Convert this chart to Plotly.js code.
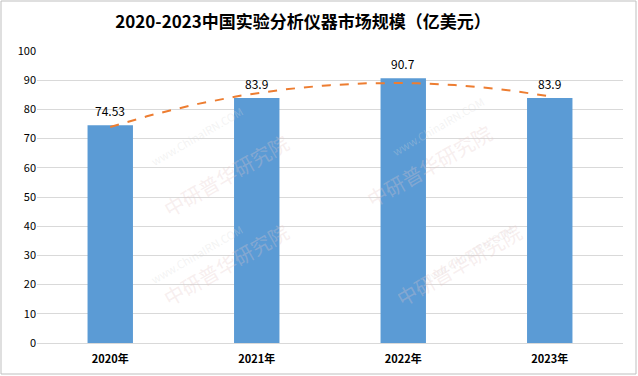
<!DOCTYPE html>
<html><head><meta charset="utf-8">
<script src="https://cdn.plot.ly/plotly-3.0.1.min.js"></script>
<style>body{margin:0;padding:0;background:#fff}#c{width:638px;height:376px}</style>
</head><body><div id="c"></div>
<script>
const categories = ['2020年','2021年','2022年','2023年'];
const values = [74.53, 83.9, 90.7, 83.9];
const valueLabels = ['74.53','83.9','90.7','83.9'];
const yTicks = [0,10,20,30,40,50,60,70,80,90,100];

// polynomial (order 2) trendline, least-squares fit on category index, as in the source
function quadFit(ys){
  const xs = ys.map((_,i)=>i+1);
  let S=[0,0,0,0,0], T=[0,0,0];
  xs.forEach((x,i)=>{for(let k=0;k<5;k++)S[k]+=Math.pow(x,k);for(let k=0;k<3;k++)T[k]+=Math.pow(x,k)*ys[i];});
  const A=[[S[0],S[1],S[2],T[0]],[S[1],S[2],S[3],T[1]],[S[2],S[3],S[4],T[2]]];
  for(let i=0;i<3;i++){for(let j=i+1;j<3;j++){const f=A[j][i]/A[i][i];for(let k=i;k<4;k++)A[j][k]-=f*A[i][k];}}
  const c=[0,0,0];
  for(let i=2;i>=0;i--){let s=A[i][3];for(let k=i+1;k<3;k++)s-=A[i][k]*c[k];c[i]=s/A[i][i];}
  return c;
}
const coef = quadFit(values);
const tx=[], ty=[];
for(let i=0;i<=60;i++){const x=1+3*i/60; tx.push(x-1); ty.push(coef[0]+coef[1]*x+coef[2]*x*x);}

const font = '"Noto Sans CJK SC", "Noto Sans", sans-serif';
const bars = {
  type:'bar', x:[0,1,2,3], y:values,
  marker:{color:'#5B9BD5'}, width:0.31, hoverinfo:'none'
};
const trend = {
  type:'scatter', mode:'lines', x:tx, y:ty,
  line:{color:'#ED7D31', width:2, dash:'dash'}, hoverinfo:'none'
};

const L=37, R=15, T=51, B=33, W=638, H=376;
const pw=W-L-R, ph=H-T-B;
const px = v => (v-L)/pw, py = v => (H-B-v)/ph;

const ann = values.map((v,i)=>({x:i,y:v,xref:'x',yref:'y',text:valueLabels[i],showarrow:false,
  yanchor:'middle',yshift:15,font:{family:font,size:12,color:'#000'}}));
[[75,130],[420,120],[75,320],[450,320]].forEach(([x,y])=>{
  ann.push({xref:'paper',yref:'paper',x:px(x+70),y:py(y-30),text:'www.ChinaIRN.COM',showarrow:false,
    textangle:-30,font:{family:font,size:11,color:'rgba(215,215,215,0.3)'}});
  ann.push({xref:'paper',yref:'paper',x:px(x+80),y:py(y-5),text:'中研普华研究院',showarrow:false,
    textangle:-30,font:{family:font,size:20,color:'rgba(230,200,200,0.3)'}});
});

const layout = {
  width:W, height:H, margin:{l:L,r:R,t:T,b:B},
  paper_bgcolor:'#fff', plot_bgcolor:'#fff', showlegend:false,
  title:{text:'<b>2020-2023中国实验分析仪器市场规模（亿美元）</b>', x:303/W, xanchor:'center', y:1-22/H, yanchor:'middle',
    font:{family:font,size:17,color:'#000'}},
  xaxis:{range:[-0.5,3.5], tickvals:[0,1,2,3], ticktext:categories.map(c=>'<b>'+c+'</b>'),
    tickfont:{family:font,size:11,color:'#000'}, showgrid:false, zeroline:false, ticklabelstandoff:6,
    showline:true, linecolor:'#d9d9d9', linewidth:1, ticks:'', fixedrange:true},
  yaxis:{range:[0,100], tickvals:yTicks, tickfont:{family:font,size:11,color:'#000'},
    showgrid:true, gridcolor:'#d9d9d9', gridwidth:1, zeroline:false, showline:false, ticks:'', ticklen:0, fixedrange:true},
  shapes:[{type:'rect',xref:'paper',yref:'paper',x0:px(1),x1:px(W-2),y0:py(H-2),y1:py(1),
    line:{color:'#bfbfbf',width:1},fillcolor:'rgba(0,0,0,0)',layer:'above'}],
  annotations: ann
};
Plotly.newPlot('c',[bars,trend],layout,{displayModeBar:false,staticPlot:true});
</script></body></html>
